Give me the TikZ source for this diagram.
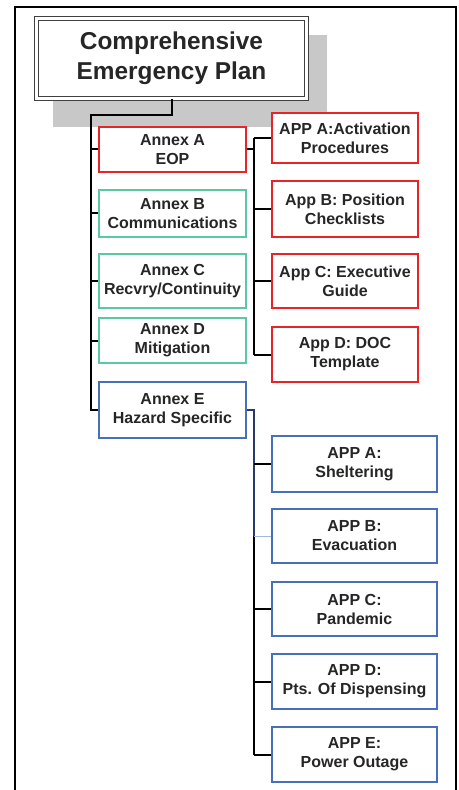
\documentclass[tikz,border=0pt]{standalone}
\usepackage{fontspec}
\setmainfont{Liberation Sans}
\usetikzlibrary{calc}

\definecolor{annexred}{RGB}{232,36,40}
\definecolor{annexgreen}{RGB}{92,200,160}
\definecolor{annexblue}{RGB}{70,112,188}
\definecolor{shadowgray}{RGB}{200,200,200}
\definecolor{trunknavy}{RGB}{38,58,108}

\tikzset{
	planbox/.style={draw,fill=white,line width=0.75pt,align=center,inner sep=0pt,
		font=\fontsize{8}{9.5}\selectfont\bfseries,text=black!85},
	redbox/.style={planbox,draw=annexred},
	greenbox/.style={planbox,draw=annexgreen},
	bluebox/.style={planbox,draw=annexblue},
	link/.style={line width=1pt,black}
}

\begin{document}
\begin{tikzpicture}[x=0.5pt,y=-0.5pt]
	\useasboundingbox (0,0) rectangle (459,790);
	%frame
	\draw[line width=1pt] (15,790) |- (456,7) -- (456,790);

	%title & shadow
	\fill[shadowgray] (53,35) rectangle (327,127);
	\node[draw=black!75,double=white,double distance=1.5pt,line width=0.6pt,fill=white,
		minimum width=135pt,minimum height=40pt,align=center,
		font=\fontsize{12.2}{15}\selectfont\bfseries,text=black!85] (plan) at (171.5,58.5)
		{Comprehensive\\Emergency Plan};

	%annexes
	\node[redbox,minimum width=73.5pt,minimum height=22.5pt] (annexA) at (172.5,149.5) {Annex A\\EOP};
	\node[greenbox,minimum width=73.5pt,minimum height=23.5pt] (annexB) at (172.5,213.5) {Annex B\\Communications};
	\node[greenbox,minimum width=73.5pt,minimum height=27pt] (annexC) at (172.5,281) {Annex C\\Recvry/Continuity};
	\node[greenbox,minimum width=73.5pt,minimum height=22.5pt] (annexD) at (172.5,340.5) {Annex D\\Mitigation};
	\node[bluebox,minimum width=73.5pt,minimum height=28pt] (annexE) at (172.5,410) {Annex E\\Hazard Specific};

	%EOP appendices
	\node[redbox,minimum width=73pt,minimum height=25pt] (eopA) at (345,138) {APP A:Activation\\Procedures};
	\node[redbox,minimum width=73pt,minimum height=28pt] (eopB) at (345,209) {App B: Position\\Checklists};
	\node[redbox,minimum width=73pt,minimum height=27pt] (eopC) at (345,281) {App C: Executive\\Guide};
	\node[redbox,minimum width=73pt,minimum height=27.5pt] (eopD) at (345,354.5) {App D: DOC\\Template};

	%hazard appendices
	\node[bluebox,minimum width=82.5pt,minimum height=28pt] (hazA) at (354.5,464) {APP A:\\Sheltering};
	\node[bluebox,minimum width=82.5pt,minimum height=27pt] (hazB) at (354.5,536) {APP B:\\Evacuation};
	\node[bluebox,minimum width=82.5pt,minimum height=27pt] (hazC) at (354.5,609) {APP C:\\Pandemic};
	\node[bluebox,minimum width=82.5pt,minimum height=27.5pt] (hazD) at (354.5,681.5) {APP D:\\Pts. Of Dispensing};
	\node[bluebox,minimum width=82.5pt,minimum height=27.5pt] (hazE) at (354.5,754.5) {APP E:\\Power Outage};

	%trunks
	\coordinate (maintrunk) at (91,115);
	\coordinate (eoptrunk) at (254,0);
	\coordinate (haztrunk) at (254,0);

	%plan to annexes
	\draw[link] (plan.south) |- (maintrunk) |- (annexE.west);
	\foreach \n in {annexA,annexB,annexC,annexD}
		\draw[link] (maintrunk |- \n.west) -- (\n.west);

	%annex A to EOP appendices
	\draw[link] (annexA.east) -- (eoptrunk |- annexA.east);
	\draw[link] (eoptrunk |- eopA.west) -- (eoptrunk |- eopD.west);
	\foreach \n in {eopA,eopB,eopC,eopD}
		\draw[link] (eoptrunk |- \n.west) -- (\n.west);

	%annex E to hazard appendices
	\draw[link,trunknavy] (annexE.east) -| (haztrunk |- hazB.west);
	\draw[link] (haztrunk |- hazB.west) -- (haztrunk |- hazE.west);
	\foreach \n in {hazA,hazC,hazD,hazE}
		\draw[link] (haztrunk |- \n.west) -- (\n.west);
	\draw[line width=0.5pt,annexblue!50] (haztrunk |- hazB.west) -- (hazB.west);
\end{tikzpicture}
\end{document}
